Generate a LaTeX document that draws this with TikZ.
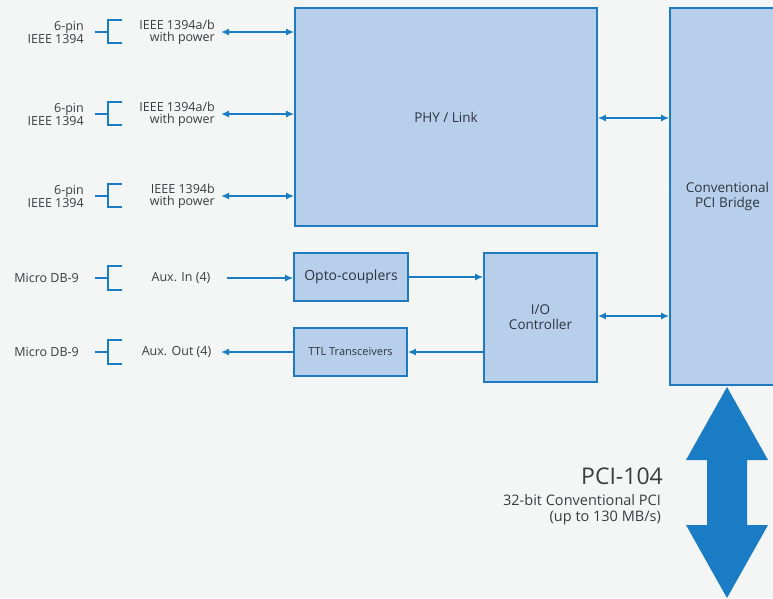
\documentclass[tikz,border=0pt]{standalone}
\usepackage{fontspec}
\setmainfont{Open Sans}
\usetikzlibrary{arrows.meta}
\definecolor{bg}{HTML}{F3F6F5}
\definecolor{boxfill}{HTML}{B7CFEA}
\definecolor{boxline}{HTML}{1F7BC1}
\definecolor{arr}{HTML}{1A7CC4}
\definecolor{txt}{HTML}{3A3C3E}
\definecolor{btxt}{HTML}{2B3440}
\tikzset{
  box/.style={draw=boxline, fill=boxfill, line width=1.6pt, inner sep=0pt, text=btxt, font=\fontsize{13.5}{15}\selectfont, align=center},
  lbl/.style={text=txt, font=\fontsize{12.5}{11.5}\selectfont, inner sep=0pt},
  conn/.style={draw=arr, line width=1.6pt, -{Latex[length=8pt,width=7pt]}},
  dconn/.style={draw=arr, line width=1.6pt, {Latex[length=8pt,width=7pt]}-{Latex[length=8pt,width=7pt]}},
  brk/.style={draw=arr, line width=2pt},
}
\begin{document}
\begin{tikzpicture}[x=1pt,y=-1pt]
\fill[bg] (0,0) rectangle (773,598);
\useasboundingbox (0,0) rectangle (773,598);

% boxes
\node[box, minimum width=302pt, minimum height=218pt] (phy) at (446,117) {PHY / Link};
\node[box, minimum width=115pt, minimum height=377pt] (bridge) at (727.5,196.5) {Conventional\\PCI Bridge};
\node[box, minimum width=114pt, minimum height=48pt, font=\fontsize{14}{15}\selectfont] (opto) at (351,277) {Opto-couplers};
\node[box, minimum width=113pt, minimum height=48pt, font=\fontsize{11}{12}\selectfont] (ttl) at (350.5,352) {TTL Transceivers};
\node[box, minimum width=113pt, minimum height=129pt] (io) at (540.5,317.5) {I/O\\Controller};

% left connector labels
\foreach \i/\y/\t in {1/32/{IEEE 1394a/b}, 2/114/{IEEE 1394a/b}, 3/196/{IEEE 1394b}}{
  \node[lbl, anchor=east, align=right] (pin\i) at (84,\y) {6-pin\\IEEE 1394};
  \node[lbl, anchor=east, align=right] (sig\i) at (215,\y) {\t\\with power};
  \coordinate (s\i) at (221,\y);
  \draw[dconn] (s\i) -- (phy.west |- s\i);
  \draw[brk] (95,\y) -- (108,\y) (122,\y-12) -- (108,\y-12) -- (108,\y+11) -- (122,\y+11);
}
\node[lbl, anchor=east] (db1) at (79,278) {Micro DB-9};
\node[lbl] (auxin) at (181,278) {Aux. In (4)};
\node[lbl, anchor=east] (db2) at (79,352) {Micro DB-9};
\node[lbl] (auxout) at (176.5,352) {Aux. Out (4)};
\draw[brk] (95,278) -- (108,278) (122,266) -- (108,266) -- (108,290) -- (122,290);
\draw[brk] (95,352) -- (108,352) (122,340) -- (108,340) -- (108,364) -- (122,364);
\coordinate (ain) at (227,278);
\coordinate (aout) at (221,352);
\draw[conn] (ain) -- (opto.west |- ain);
\draw[conn] (ttl.west |- aout) -- (aout);

% internal connectors
\draw[dconn] (phy.east |- 0,118) -- (bridge.west |- 0,118);
\draw[dconn] (io.east |- 0,316) -- (bridge.west |- 0,316);
\draw[conn] (opto.east) -- (io.west |- opto.east);
\draw[conn] (io.west |- ttl.east) -- (ttl.east);

% big PCI-104 arrow
\fill[arr] (727,387) -- (768,460) -- (747,460) -- (747,525) -- (768,525) -- (727,598) -- (686,525) -- (707,525) -- (707,460) -- (686,460) -- cycle;
\node[text=txt, anchor=base east, inner sep=0pt, font=\fontsize{23}{25}\selectfont] (pci) at (663,484) {PCI-104};
\node[text=txt, anchor=base east, inner sep=0pt, font=\fontsize{14.5}{16}\selectfont] (pcisub) at (661,505) {32-bit Conventional PCI};
\node[text=txt, anchor=base east, inner sep=0pt, font=\fontsize{14.5}{16}\selectfont] (pcisub2) at (661,521) {(up to 130 MB/s)};
\end{tikzpicture}
\end{document}
